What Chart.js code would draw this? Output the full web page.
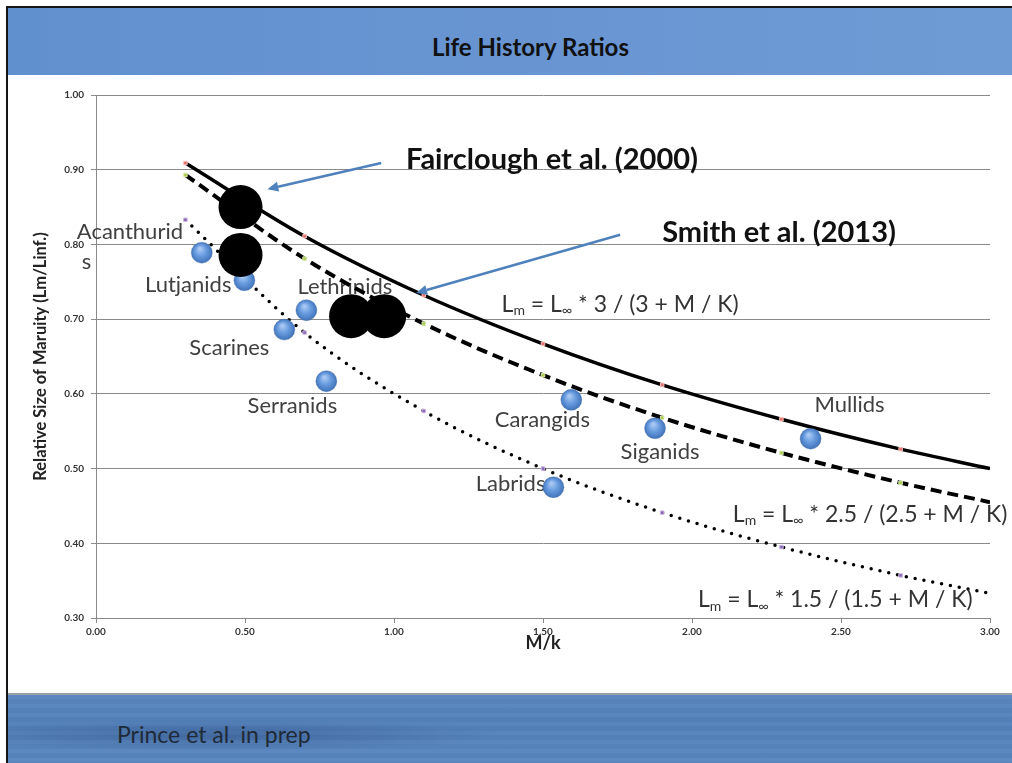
<!DOCTYPE html>
<html>
<head>
<meta charset="utf-8">
<title>Life History Ratios</title>
<script src="https://cdn.jsdelivr.net/npm/chart.js@4.4.1/dist/chart.umd.min.js"></script>
<style>
  html, body { margin: 0; padding: 0; background: #fff; }
  #slide { position: relative; width: 1012px; height: 763px; overflow: hidden; background: #fff; }
  #frame { position: absolute; left: 6px; top: 6px; right: -4px; bottom: -4px;
           border-left: 2px solid #151515; border-top: 2px solid #151515; }
  #header { position: absolute; left: 8px; top: 8px; right: 0; height: 67px;
            background: linear-gradient(90deg, #6190cf 0%, #6895d2 50%, #6f9bd4 100%); }
  #header h1 { position: absolute; left: 424px; top: 24px; margin: 0;
               font: bold 24px Lato, "Open Sans", sans-serif; color: #111; }
  #footer { position: absolute; left: 8px; top: 693px; right: 0; bottom: 0;
            border-top: 2px solid #9aa0a8;
            background:
              repeating-linear-gradient(180deg, rgba(255,255,255,0.025) 0px, rgba(255,255,255,0.025) 4px, rgba(0,0,0,0.02) 4px, rgba(0,0,0,0.02) 9px),
              radial-gradient(ellipse 280px 16px at 210px 40px, rgba(30,60,110,0.35), rgba(30,60,110,0) 100%),
              linear-gradient(180deg, #5a86bf 0%, #5381ba 45%, #5a87c0 100%); }
  #footer span { position: absolute; left: 109px; top: 25px;
                 font: 23px Lato, "Open Sans", sans-serif; color: #1e2a38; }
  #chart { position: absolute; left: 0; top: 0; }
</style>
</head>
<body>
<div id="slide">
  <div id="header"><h1>Life History Ratios</h1></div>
  <div id="footer"><span>Prince et al. in prep</span></div>
  <div id="frame"></div>
  <canvas id="chart" width="1012" height="763"></canvas>
</div>
<script>
// Lm/Linf curves for three M/k ratios, sampled where the markers sit
const curveMk = [0.3, 0.7, 1.1, 1.5, 1.9, 2.3, 2.7, 3.0];
const curve30 = [0.909, 0.811, 0.732, 0.667, 0.612, 0.566, 0.526, 0.500];
const curve25 = [0.893, 0.781, 0.694, 0.625, 0.568, 0.521, 0.481, 0.455];
const curve15 = [0.833, 0.682, 0.577, 0.500, 0.441, 0.395, 0.357, 0.333];

// family averages (blue)
const families = ['Acanthurids', 'Lutjanids', 'Lethrinids', 'Scarines', 'Serranids',
                  'Carangids', 'Siganids', 'Labrids', 'Mullids'];
const familyMk = [0.355, 0.498, 0.706, 0.632, 0.773, 1.595, 1.876, 1.535, 2.398];
const familyLm = [0.789, 0.752, 0.712, 0.686, 0.617, 0.592, 0.554, 0.475, 0.540];

// published estimates (black)
const studyMk = [0.485, 0.485, 0.856, 0.967];
const studyLm = [0.850, 0.786, 0.704, 0.704];

const xMin = 0, xMax = 3, xStep = 0.5;
const yMin = 0.3, yMax = 1.0, yStep = 0.1;

const FONT = 'Lato, "Open Sans", sans-serif';

const toPoints = (xs, ys) => xs.map((x, i) => ({ x: x, y: ys[i] }));

// where each family name sits relative to its bubble (pixels)
const labelPlace = {
  Acanthurids: { dx: -125, dy: -21, align: 'left', lines: ['Acanthurid', 's'] },
  Lutjanids:   { dx: -13, dy: 5, align: 'right' },
  Lethrinids:  { dx: -9, dy: -23, align: 'left' },
  Scarines:    { dx: -55, dy: 18, align: 'center' },
  Serranids:   { dx: -34, dy: 25, align: 'center' },
  Carangids:   { dx: -29, dy: 20, align: 'center' },
  Siganids:    { dx: 5, dy: 24, align: 'center' },
  Labrids:     { dx: -8, dy: -3, align: 'right' },
  Mullids:     { dx: 39, dy: -34, align: 'center' }
};

function bubbleFill(ctx) {
  const chart = ctx.chart;
  const raw = ctx.raw;
  if (!raw || !chart.scales.x || !chart.scales.y) return '#5b8fd6';
  const cx = chart.scales.x.getPixelForValue(raw.x);
  const cy = chart.scales.y.getPixelForValue(raw.y);
  if (!isFinite(cx) || !isFinite(cy)) return '#5b8fd6';
  const g = chart.ctx.createRadialGradient(cx - 2, cy - 4, 1, cx, cy, 11);
  g.addColorStop(0, '#a8c8f2');
  g.addColorStop(0.45, '#6a9de0');
  g.addColorStop(1, '#3e70b6');
  return g;
}

function drawEquation(ctx, x, y, coef) {
  const big = '23px ' + FONT, small = '14px ' + FONT;
  const parts = [['L', big, 0], ['m', small, 6], [' = L', big, 0], ['\u221e', small, 6],
                 [' * ' + coef + ' / (' + coef + ' + M / K)', big, 0]];
  ctx.fillStyle = '#333';
  ctx.textAlign = 'left';
  ctx.textBaseline = 'middle';
  parts.forEach(p => {
    ctx.font = p[1];
    ctx.fillText(p[0], x, y + p[2]);
    x += ctx.measureText(p[0]).width;
  });
}

function drawArrow(ctx, x1, y1, x2, y2) {
  const a = Math.atan2(y2 - y1, x2 - x1);
  const head = 11, wide = 5;
  ctx.strokeStyle = '#4f81bd';
  ctx.fillStyle = '#4f81bd';
  ctx.lineWidth = 2.5;
  ctx.beginPath();
  ctx.moveTo(x1, y1);
  ctx.lineTo(x2 - head * Math.cos(a), y2 - head * Math.sin(a));
  ctx.stroke();
  ctx.beginPath();
  ctx.moveTo(x2, y2);
  ctx.lineTo(x2 - head * Math.cos(a) + wide * Math.sin(a), y2 - head * Math.sin(a) - wide * Math.cos(a));
  ctx.lineTo(x2 - head * Math.cos(a) - wide * Math.sin(a), y2 - head * Math.sin(a) + wide * Math.cos(a));
  ctx.closePath();
  ctx.fill();
}

// family names go under the marks, the notes and arrows above them
const notesPlugin = {
  id: 'notes',
  beforeDatasetsDraw(chart) {
    const { ctx, scales: { x, y } } = chart;
    ctx.save();
    ctx.font = '22px ' + FONT;
    ctx.fillStyle = '#404040';
    ctx.textBaseline = 'middle';
    families.forEach((name, i) => {
      const p = labelPlace[name];
      const px = x.getPixelForValue(familyMk[i]) + p.dx;
      const py = y.getPixelForValue(familyLm[i]) + p.dy;
      const lines = p.lines || [name];
      ctx.textAlign = p.align;
      lines.forEach((t, j) => ctx.fillText(t, px + (j ? 5 : 0), py + j * 30));
    });
    ctx.restore();
  },
  afterDatasetsDraw(chart) {
    const { ctx, scales: { x, y } } = chart;
    ctx.save();
    drawArrow(ctx, x.getPixelForValue(0.957), y.getPixelForValue(0.909),
              x.getPixelForValue(0.575), y.getPixelForValue(0.874));
    drawArrow(ctx, x.getPixelForValue(1.759), y.getPixelForValue(0.813),
              x.getPixelForValue(1.074), y.getPixelForValue(0.735));
    ctx.font = 'bold 29px ' + FONT;
    ctx.fillStyle = '#111';
    ctx.textAlign = 'left';
    ctx.textBaseline = 'middle';
    ctx.fillText('Fairclough et al. (2000)', x.getPixelForValue(1.04), y.getPixelForValue(0.914));
    ctx.fillText('Smith et al. (2013)', x.getPixelForValue(1.90), y.getPixelForValue(0.816));
    drawEquation(ctx, x.getPixelForValue(1.361), y.getPixelForValue(0.719), '3');
    drawEquation(ctx, x.getPixelForValue(2.137), y.getPixelForValue(0.438), '2.5');
    drawEquation(ctx, x.getPixelForValue(2.020), y.getPixelForValue(0.324), '1.5');
    ctx.restore();
  }
};

const markerSizes = curveMk.map((m, i) => (i === curveMk.length - 1 ? 0 : 2.5));

new Chart(document.getElementById('chart'), {
  type: 'scatter',
  data: {
    datasets: [
      {
        label: 'Published estimates',
        data: toPoints(studyMk, studyLm),
        backgroundColor: '#000',
        borderColor: '#000',
        pointRadius: 22,
        pointBorderWidth: 0
      },
      {
        label: 'Families',
        data: toPoints(familyMk, familyLm),
        backgroundColor: bubbleFill,
        borderColor: 'rgba(60,100,160,0.35)',
        pointRadius: 10.5,
        pointBorderWidth: 1
      },
      {
        label: '3 / (3 + M/K)',
        data: toPoints(curveMk, curve30),
        showLine: true,
        borderColor: '#000',
        borderWidth: 3.5,
        cubicInterpolationMode: 'monotone',
        pointStyle: 'rect',
        pointRadius: markerSizes,
        pointBackgroundColor: '#e56f6a',
        pointBorderColor: '#f6c2bf',
        pointBorderWidth: 1
      },
      {
        label: '2.5 / (2.5 + M/K)',
        data: toPoints(curveMk, curve25),
        showLine: true,
        borderColor: '#000',
        borderWidth: 4,
        borderDash: [11, 6],
        cubicInterpolationMode: 'monotone',
        pointStyle: 'rect',
        pointRadius: markerSizes,
        pointBackgroundColor: '#a9cc52',
        pointBorderColor: '#dbeab0',
        pointBorderWidth: 1
      },
      {
        label: '1.5 / (1.5 + M/K)',
        data: toPoints(curveMk, curve15),
        showLine: true,
        borderColor: '#000',
        borderWidth: 3.5,
        borderDash: [0, 9],
        borderCapStyle: 'round',
        cubicInterpolationMode: 'monotone',
        pointStyle: 'rect',
        pointRadius: markerSizes,
        pointBackgroundColor: '#8a64b4',
        pointBorderColor: '#cdbde0',
        pointBorderWidth: 1
      }
    ]
  },
  options: {
    responsive: false,
    animation: false,
    devicePixelRatio: 1,
    layout: { padding: { left: 31, top: 95, right: 19, bottom: 109 } },
    plugins: {
      legend: { display: false },
      tooltip: { enabled: false }
    },
    scales: {
      x: {
        type: 'linear',
        min: xMin,
        max: xMax,
        afterFit: s => { s.height = 36; },
        ticks: {
          stepSize: xStep,
          padding: 3,
          color: '#333',
          font: { family: FONT, size: 10, weight: 'bold' },
          callback: v => v.toFixed(2)
        },
        grid: { drawOnChartArea: false, drawTicks: true, tickLength: 5, color: '#888' },
        border: { display: true, color: '#888', width: 1 },
        title: {
          display: true,
          text: 'M/k',
          color: '#222',
          padding: { top: 0, bottom: 0 },
          font: { family: FONT, size: 18, weight: 'bold' }
        }
      },
      y: {
        type: 'linear',
        min: yMin,
        max: yMax,
        afterFit: s => { s.width = 65; },
        ticks: {
          stepSize: yStep,
          padding: 7,
          color: '#333',
          font: { family: FONT, size: 10, weight: 'bold' },
          callback: v => v.toFixed(2)
        },
        grid: { color: '#8a8a8a', lineWidth: 1, tickLength: 5 },
        border: { display: true, color: '#888', width: 1 },
        title: {
          display: true,
          text: 'Relative Size of Maruity (Lm/Linf.)',
          color: '#222',
          padding: { top: 0, bottom: 0 },
          font: { family: FONT, size: 16.5, weight: 'bold' }
        }
      }
    }
  },
  plugins: [notesPlugin]
});
</script>
</body>
</html>
